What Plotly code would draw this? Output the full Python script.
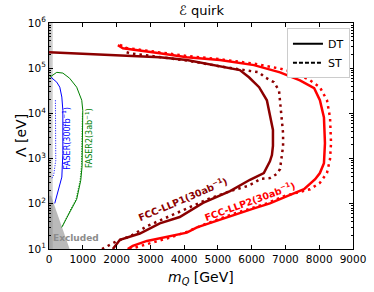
import plotly.graph_objects as go

# ---------------- data ----------------
llp1_dt_m = [0, 2100, 3280, 4080, 5650, 5920, 6220, 6450, 6540, 6630, 6630, 6600, 6540, 6360, 5950, 5360, 4560, 3870, 3280, 2690, 2100, 1890]
llp1_dt_L = [2.24e5, 1.95e5, 1.74e5, 1.51e5, 9.1e4, 6.3e4, 3.8e4, 1.95e4, 8.3e3, 4.3e3, 1.9e3, 1.2e3, 870, 480, 340, 190, 105, 51, 37, 22, 16, 10]

llp1_st_m = [2300, 2260, 2400, 4080, 5060, 5950, 6220, 6390, 6660, 6810, 6840, 6900, 6930, 6930, 6870, 6840, 6750, 6540, 6250, 6070, 5860, 5360, 4700, 4080, 3490, 2900, 2400, 2010, 1570]
llp1_st_L = [2.95e5, 2.29e5, 2.14e5, 1.48e5, 1.10e5, 8.9e4, 8.1e4, 6.3e4, 4.9e4, 3.2e4, 1.95e4, 8.1e3, 3.6e3, 1.9e3, 980, 590, 460, 370, 355, 290, 245, 190, 126, 79, 52, 32, 19, 15, 10]

llp2_dt_m = [2040, 2190, 3280, 4080, 5060, 6070, 6840, 7430, 7850, 8020, 8140, 8170, 8140, 8020, 7880, 7550, 7050, 6540, 6070, 5360, 4880, 4380, 4080, 3490, 2900, 2480, 2330]
llp2_dt_L = [3.24e5, 2.75e5, 2.14e5, 1.74e5, 1.51e5, 1.17e5, 8.1e4, 5.4e4, 3.6e4, 1.95e4, 8.1e3, 2.2e3, 790, 480, 350, 210, 148, 102, 79, 52, 40, 30, 23, 18.6, 15.1, 11.7, 10]

llp2_st_m = [2100, 2300, 3280, 4080, 5060, 6070, 6840, 7250, 7730, 8020, 8230, 8320, 8350, 8320, 8230, 8020, 7730, 7340, 6960, 6450, 6070, 5400, 4600, 4080, 3570, 3000, 2400]
llp2_st_L = [3.3e5, 2.8e5, 2.24e5, 1.86e5, 1.58e5, 1.26e5, 9.8e4, 8.1e4, 5.4e4, 3.8e4, 1.95e4, 8.1e3, 2.2e3, 980, 480, 290, 210, 174, 148, 102, 83, 58, 35, 24, 17.8, 13.5, 10]

faser_dt_m = [60, 230, 320, 380, 410, 410, 410, 380, 260, 170]
faser_dt_L = [6.3e4, 4.9e4, 3.8e4, 2.3e4, 1.17e4, 5.0e3, 1.3e3, 390, 170, 102]
faser_st_m = [190, 200, 200, 140, 80]
faser_st_L = [1.95e4, 5.0e3, 910, 440, 360]

faser2_dt_m = [20, 230, 410, 610, 820, 970, 1000, 1000, 980, 940, 820, 620, 480, 376]
faser2_dt_L = [6.3e4, 8.1e4, 7.8e4, 6.0e4, 3.8e4, 1.95e4, 1.17e4, 2.2e3, 680, 330, 126, 66, 42, 30]
faser2_st_m = [990, 985, 960, 920, 800, 600, 460, 390]
faser2_st_L = [1.0e4, 2.2e3, 680, 330, 126, 66, 42, 31]

band_m = [0, 110, 110, 0]
band_L = [10, 10, 1e6, 1e6]
band2_m = [0, 35, 35, 0]
excl_m = [0, 0, 60, 610]
excl_L = [10, 150, 150, 10]

x_ticks = [0, 1000, 2000, 3000, 4000, 5000, 6000, 7000, 8000, 9000]
y_ticks = [1e1, 1e2, 1e3, 1e4, 1e5, 1e6]
y_ticktext = ["10<sup>1</sup>", "10<sup>2</sup>", "10<sup>3</sup>", "10<sup>4</sup>", "10<sup>5</sup>", "10<sup>6</sup>"]

DARK = "#8b0000"
RED = "#ff0000"
DOT = "2.5px,4px"

fig = go.Figure()

def add(x, y, color, width, dash=None, fill=None, fillcolor=None, mode="lines"):
    fig.add_trace(go.Scatter(
        x=x, y=y, mode=mode, showlegend=False, hoverinfo="skip",
        line=dict(color=color, width=width, dash=dash),
        fill=fill, fillcolor=fillcolor))

# shaded regions
add(band_m, band_L, "rgba(0,0,0,0)", 0, fill="toself", fillcolor="#cfcfcf")
add(band2_m, band_L, "rgba(0,0,0,0)", 0, fill="toself", fillcolor="#b0b0b0")
add(excl_m, excl_L, "rgba(0,0,0,0)", 0, fill="toself", fillcolor="rgba(140,140,140,0.6)")

# FASER curves
add(faser_dt_m, faser_dt_L, "#0000ff", 1)
add(faser_st_m, faser_st_L, "#0000ff", 1, dash="1px,1.5px")
add(faser2_dt_m, faser2_dt_L, "#008000", 1)
add(faser2_st_m, faser2_st_L, "#008000", 1, dash="1px,1.5px")

# FCC curves
add(llp1_dt_m, llp1_dt_L, DARK, 2.5)
add(llp1_st_m, llp1_st_L, DARK, 2.5, dash=DOT)
add(llp2_dt_m, llp2_dt_L, RED, 2.5)
add(llp2_st_m, llp2_st_L, RED, 2.5, dash=DOT)

# legend entries
fig.add_trace(go.Scatter(x=[None], y=[None], mode="lines", name="DT",
                         line=dict(color="black", width=2)))
fig.add_trace(go.Scatter(x=[None], y=[None], mode="lines", name="ST",
                         line=dict(color="black", width=2, dash="4px,2px")))

FONT = "DejaVu Sans"

axis_common = dict(
    showline=True, linecolor="black", linewidth=1, mirror="allticks",
    ticks="inside", ticklen=4, tickcolor="black", showgrid=False, zeroline=False,
    automargin=False,
    tickfont=dict(family=FONT, size=10.5, color="black"),
)

fig.update_xaxes(range=[0, 9000], tickvals=x_ticks, ticktext=[str(v) for v in x_ticks], **axis_common)
fig.update_yaxes(type="log", range=[1, 6], tickvals=y_ticks, ticktext=y_ticktext,
                 minor=dict(ticks="inside", ticklen=2, tickcolor="black", showgrid=False, dtick="D1"),
                 **axis_common)

ann = []
ann.append(dict(text="ℰ quirk", x=0.5, y=1.056, xref="paper", yref="paper",
                showarrow=False, font=dict(family=FONT, size=13, color="black"), yanchor="middle"))
ann.append(dict(text="Λ [eV]", x=-0.125, y=0.5, xref="paper", yref="paper", textangle=-90,
                showarrow=False, font=dict(family=FONT, size=14, color="black")))
ann.append(dict(text="<i>m</i><sub><i>Q</i></sub> [GeV]", x=0.5, y=-0.13, xref="paper", yref="paper",
                showarrow=False, yanchor="middle", font=dict(family=FONT, size=14, color="black")))
ann.append(dict(text="<b>FCC-LLP1(30ab<sup>−1</sup>)</b>", x=3960, y=2.1, textangle=-23,
                showarrow=False, font=dict(family=FONT, size=9.5, color=DARK)))
ann.append(dict(text="<b>FCC-LLP2(30ab<sup>−1</sup>)</b>", x=5950, y=2.06, textangle=-20,
                showarrow=False, font=dict(family=FONT, size=9.5, color=RED)))
ann.append(dict(text="FASER(300fb<sup>−1</sup>)", x=520, y=3.45, textangle=-90,
                showarrow=False, font=dict(family=FONT, size=8, color="#0000ff")))
ann.append(dict(text="FASER2(3ab<sup>−1</sup>)", x=1180, y=3.45, textangle=-90,
                showarrow=False, font=dict(family=FONT, size=8, color="#008000")))
ann.append(dict(text="<b>Excluded</b>", x=790, y=1.24,
                showarrow=False, font=dict(family=FONT, size=9, color="#8c8c8c")))

fig.update_layout(
    width=374, height=292,
    margin=dict(l=49, r=21, t=23, b=43),
    paper_bgcolor="white", plot_bgcolor="white",
    font=dict(family=FONT, color="black"),
    annotations=ann,
    legend=dict(x=0.99, y=0.977, xanchor="right", yanchor="top",
                bgcolor="white", bordercolor="#cccccc", borderwidth=1,
                font=dict(family=FONT, size=11, color="black"),
                tracegroupgap=0, itemwidth=30),
)

# remove the browser's default 8px body margin so the figure fills the window
fig.write_html("out.html", config={"displayModeBar": False},
               post_script="document.body.style.margin='0';")
